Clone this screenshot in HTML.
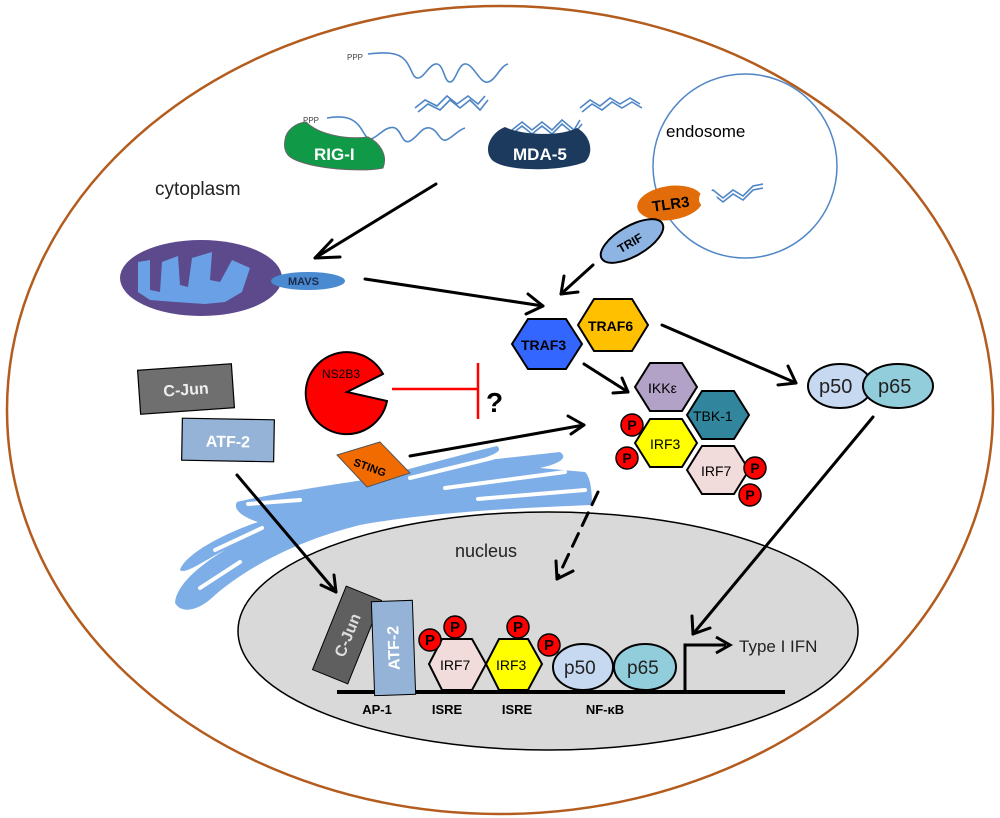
<!DOCTYPE html>
<html><head><meta charset="utf-8"><style>
html,body{margin:0;padding:0;background:#fff}
svg{display:block}
text{font-family:"Liberation Sans",sans-serif}
</style></head><body>
<svg width="1000" height="818" viewBox="0 0 1000 818" xmlns="http://www.w3.org/2000/svg">
<!-- cell -->
<ellipse cx="500" cy="410" rx="493" ry="404" fill="#fff" stroke="#b35c1e" stroke-width="2.5"/>
<!-- nucleus -->
<ellipse cx="548" cy="631" rx="310" ry="119" fill="#d9d9d9" stroke="#000" stroke-width="1.5"/>
<!-- endosome -->
<circle cx="745" cy="166" r="92" fill="none" stroke="#4f86c6" stroke-width="1.5"/>
<text x="666" y="137" font-size="17">endosome</text>
<text x="155" y="195" font-size="19" fill="#222">cytoplasm</text>
<text x="455" y="557" font-size="18" fill="#222">nucleus</text>

<!-- RNA strands -->
<g fill="none" stroke="#4f86c6" stroke-width="1.6">
<path d="M368 54 C385 52,398 52,405 60 S412 78,418 78 S430 63,437 64 S444 82,450 82 S458 63,466 64 S480 84,488 82 S500 66,508 64"/>
<path d="M415 108 L425 100 L437 106 L447 96 L457 104 L468 96 L478 104 L485 96"/>
<path d="M418 112 L428 104 L440 110 L450 100 L460 108 L470 100 L480 110 L488 100"/>
<path d="M580 108 L590 100 L600 106 L610 98 L620 104 L630 98 L640 104"/>
<path d="M582 112 L592 104 L602 110 L612 102 L622 108 L632 102 L642 108"/>
<path d="M327 118 C345 115,355 118,362 130 S370 140,375 137 S388 125,395 128 S402 145,410 141 S422 126,430 128 S440 142,446 140 S458 130,465 128"/>
<path d="M512 130 L522 122 L532 130 L542 122 L552 130 L562 120 L574 130 L580 120"/>
<path d="M512 134 L522 126 L532 134 L542 126 L552 134 L562 124 L574 134 L582 124"/>
<path d="M703 198 L713 190 L723 198 L733 190 L743 196 L753 186 L763 184"/>
<path d="M703 202 L713 194 L723 202 L733 194 L743 200 L753 190 L763 188"/>
</g>
<text x="347" y="60" font-size="8" fill="#444">PPP</text>
<text x="303" y="123" font-size="8" fill="#444">PPP</text>
<!-- RIG-I -->
<path d="M285 140 C286 130,296 123,306 122 C318 134,345 140,368 137 C380 143,388 155,383 168 C360 173,300 168,288 155 C284 150,284 145,285 140Z" fill="#109a48" stroke="#666" stroke-width="1"/>
<text x="314" y="160" font-size="17" font-weight="bold" fill="#fff">RIG-I</text>
<!-- MDA-5 -->
<path d="M505 127 C520 135,560 137,577 128 C590 135,595 152,585 162 C560 172,505 172,492 160 C483 150,490 133,505 127Z" fill="#1c3a5e"/>
<text x="513" y="160" font-size="17" font-weight="bold" fill="#fff">MDA-5</text>

<!-- mitochondria -->
<ellipse cx="201" cy="278" rx="81" ry="38" fill="#5c4a8c"/>
<path d="M138 262 L150 260 L150 290 L160 292 L162 262 L178 256 L180 285 L188 287 L192 258 L212 252 L210 280 L220 282 L232 260 L250 268 L242 292 L225 302 L205 304 L175 302 L150 300 L138 292 Z" fill="#6aa0e6"/>
<ellipse cx="308" cy="281" rx="37" ry="9" fill="#4a8ad0"/>
<text x="288" y="285" font-size="11" font-weight="bold" fill="#1a2a4a">MAVS</text>

<!-- TLR3 / TRIF -->
<g transform="rotate(-8 670 203)"><ellipse cx="670" cy="203" rx="33" ry="17" fill="#e36c0a"/></g>
<circle cx="708" cy="199" r="9" fill="#fff"/>
<text x="652" y="209" font-size="15" font-weight="bold" fill="#000" transform="rotate(-8 672 204)">TLR3</text>
<g transform="rotate(-30 632 241)"><ellipse cx="632" cy="241" rx="35" ry="15" fill="#8db4e2" stroke="#000" stroke-width="2"/>
<text x="616" y="246" font-size="12" font-weight="bold">TRIF</text></g>

<!-- ER -->
<path d="M237 502 C260 496,330 485,370 479 C400 472,440 460,497 446 C502 450,500 454,470 462 L560 452 C566 456,566 462,540 468 L585 472 C592 478,592 500,592 505 C520 508,430 512,360 525 C300 540,250 565,215 595 C200 610,182 615,175 603 C176 585,200 565,225 550 C205 560,185 575,180 570 C185 555,220 535,258 522 C245 518,232 510,237 502Z" fill="#7eaee8"/>
<g stroke="#fff" stroke-linecap="round" fill="none" stroke-width="4">
<path d="M410 478 L492 458"/>
<path d="M445 488 L565 472"/>
<path d="M478 499 L585 490"/>
<path d="M248 504 L300 500"/>
<path d="M215 550 L262 528"/>
<path d="M200 588 L240 562"/>
</g>
<!-- STING -->
<polygon points="337,455 380,442 410,473 367,487" fill="#f26b00" stroke="#555" stroke-width="1"/>
<text x="353" y="472" font-size="11" font-weight="bold" transform="rotate(20 372 468)">STING</text>

<!-- arrows -->
<g stroke="#000" stroke-width="3" fill="none" stroke-linecap="round" stroke-linejoin="round">
<path d="M436 184 L315 258"/><path d="M332 240 L315 258 L340 257"/>
<path d="M365 279 L543 306"/><path d="M528 294 L543 306 L526 314"/>
<path d="M593 265 L561 294"/><path d="M564 276 L561 294 L578 292"/>
<path d="M662 325 L796 383"/><path d="M788 366 L796 383 L778 385"/>
<path d="M584 364 L628 392"/><path d="M622 378 L628 392 L613 393"/>
<path d="M410 456 L584 425"/><path d="M568 416 L584 425 L571 434"/>
<path d="M237 475 L336 592"/><path d="M321 585 L336 592 L334 575"/>
<path d="M873 417 L693 634"/><path d="M692 616 L693 634 L710 628"/>
<path d="M598 492 L557 579" stroke-dasharray="14 9"/><path d="M556 561 L557 579 L573 571"/>
</g>

<!-- TRAF3/6 -->
<polygon points="528,319 566,319 582,344 566,369 528,369 512,344" fill="#3366ff" stroke="#000" stroke-width="2"/>
<text x="521" y="350" font-size="14" font-weight="bold">TRAF3</text>
<polygon points="594,299 632,299 648,325 632,351 594,351 578,325" fill="#ffc000" stroke="#000" stroke-width="2"/>
<text x="588" y="331" font-size="14" font-weight="bold">TRAF6</text>

<!-- kinase complex -->
<polygon points="650,363 682,363 697,387 682,411 650,411 635,387" fill="#b3a2c7" stroke="#000" stroke-width="2"/>
<text x="648" y="393" font-size="14">IKKε</text>
<polygon points="702,391 734,391 749,415 734,439 702,439 687,415" fill="#31859c" stroke="#000" stroke-width="2"/>
<text x="693" y="421" font-size="14">TBK-1</text>
<polygon points="650,419 682,419 697,443 682,467 650,467 635,443" fill="#ffff00" stroke="#000" stroke-width="2"/>
<text x="650" y="449" font-size="14">IRF3</text>
<polygon points="702,446 734,446 749,470 734,494 702,494 687,470" fill="#f2dcdb" stroke="#000" stroke-width="2"/>
<text x="701" y="476" font-size="14">IRF7</text>
<g fill="#f00" stroke="#000" stroke-width="1.5">
<circle cx="632" cy="425" r="11"/><circle cx="627" cy="458" r="11"/><circle cx="755" cy="468" r="11"/><circle cx="750" cy="495" r="11"/>
</g>
<g font-size="14" font-weight="bold" text-anchor="middle">
<text x="632" y="430">P</text><text x="627" y="463">P</text><text x="755" y="473">P</text><text x="750" y="500">P</text>
</g>

<!-- p50/p65 cytoplasm -->
<ellipse cx="840" cy="386" rx="32" ry="22" fill="#c6d9f1" stroke="#000" stroke-width="2"/>
<ellipse cx="898" cy="386" rx="35" ry="22" fill="#92cddc" stroke="#000" stroke-width="2"/>
<text x="819" y="393" font-size="20" fill="#222">p50</text>
<text x="878" y="393" font-size="20" fill="#222">p65</text>

<!-- NS2B3 -->
<path d="M347 392 L383 374 A41 41 0 1 0 387 401 Z" fill="#f00" stroke="#000" stroke-width="2"/>
<text x="322" y="378" font-size="12" fill="#000">NS2B3</text>
<path d="M392 389 L478 389 M478 363 L478 419" stroke="#f00" stroke-width="2.5" fill="none"/>
<text x="486" y="412" font-size="28" font-weight="bold">?</text>

<!-- C-Jun, ATF-2 -->
<g transform="rotate(-4 186 389)"><rect x="139" y="367" width="94" height="44" fill="#6f6f6f" stroke="#000" stroke-width="1.2"/>
<text x="186" y="395" font-size="16" font-weight="bold" fill="#eee" text-anchor="middle">C-Jun</text></g>
<g transform="rotate(1 228 440)"><rect x="182" y="419" width="92" height="42" fill="#95b3d7" stroke="#000" stroke-width="1.2"/>
<text x="228" y="447" font-size="16" font-weight="bold" fill="#fff" text-anchor="middle">ATF-2</text></g>

<!-- nucleus promoter -->
<path d="M337 692 L785 692" stroke="#000" stroke-width="4"/>
<path d="M685 692 L685 645 L726 645" stroke="#000" stroke-width="3" fill="none"/>
<path d="M716 637 L730 645 L716 653" stroke="#000" stroke-width="3" fill="none"/>
<text x="739" y="652" font-size="17" fill="#222">Type I IFN</text>

<g transform="rotate(22 347 635)"><rect x="328" y="590" width="38" height="90" fill="#5f5f5f" stroke="#000" stroke-width="1"/>
<text font-size="16" font-weight="bold" fill="#ddd" text-anchor="middle" transform="translate(353 635) rotate(-90)">C-Jun</text></g>
<g transform="rotate(-2 393 648)"><rect x="373" y="601" width="41" height="94" fill="#95b3d7" stroke="#000" stroke-width="1"/>
<text font-size="16" font-weight="bold" fill="#fff" text-anchor="middle" transform="translate(399 648) rotate(-90)">ATF-2</text></g>

<polygon points="442,639 472,639 486,664 472,690 442,690 429,664" fill="#f2dcdb" stroke="#000" stroke-width="2"/>
<text x="440" y="670" font-size="14">IRF7</text>
<polygon points="499,639 528,639 542,664 528,690 499,690 486,664" fill="#ffff00" stroke="#000" stroke-width="2"/>
<text x="496" y="670" font-size="14">IRF3</text>
<g fill="#f00" stroke="#000" stroke-width="1.5">
<circle cx="430" cy="640" r="11"/><circle cx="455" cy="627" r="11"/><circle cx="518" cy="627" r="11"/><circle cx="549" cy="645" r="11"/>
</g>
<g font-size="15" font-weight="bold" text-anchor="middle">
<text x="430" y="645">P</text><text x="455" y="632">P</text><text x="518" y="632">P</text><text x="549" y="650">P</text>
</g>
<ellipse cx="583" cy="667" rx="30" ry="23" fill="#c6d9f1" stroke="#000" stroke-width="2"/>
<ellipse cx="645" cy="667" rx="31" ry="23" fill="#92cddc" stroke="#000" stroke-width="2"/>
<text x="564" y="674" font-size="19" fill="#222">p50</text>
<text x="627" y="674" font-size="19" fill="#222">p65</text>
<g font-size="13" font-weight="bold" text-anchor="middle">
<text x="377" y="714">AP-1</text><text x="447" y="714">ISRE</text><text x="517" y="714">ISRE</text><text x="605" y="714">NF-κB</text>
</g>
</svg>
</body></html>
